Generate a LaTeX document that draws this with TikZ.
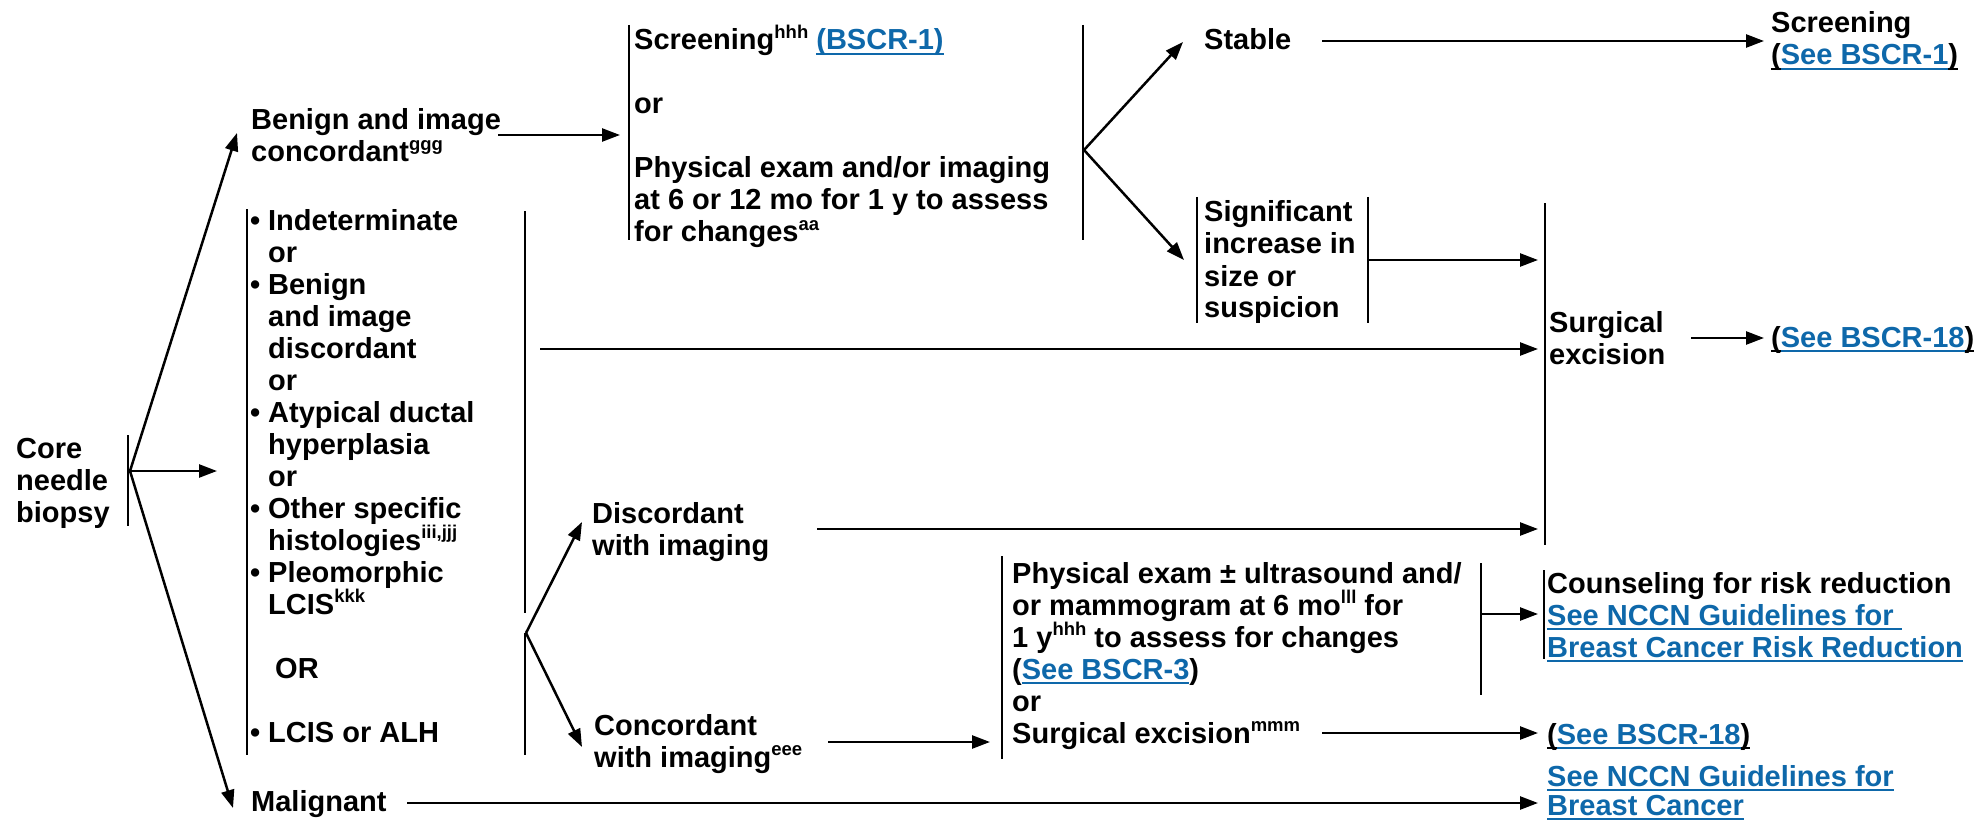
\documentclass[tikz,border=0pt]{standalone}
\usepackage{fontspec}
\setmainfont{Liberation Sans}
\usetikzlibrary{arrows.meta}
\definecolor{lnk}{RGB}{14,104,170}
\newsavebox{\ulbox}
\newcommand{\uln}[1]{\sbox{\ulbox}{#1}\rlap{\rule[-5pt]{\wd\ulbox}{2pt}}\usebox{\ulbox}}
\newcommand{\ml}[1]{\begin{tabular}[t]{@{}l@{}}#1\end{tabular}}
\newcommand{\sps}[1]{\smash{\raisebox{11.5pt}{\fontsize{18.5}{18.5}\selectfont #1}}}
\newcommand{\lk}[1]{\textcolor{lnk}{\uln{#1}}}
\newcommand{\bul}{\makebox[18pt][l]{•}}
\newcommand{\ind}{\hspace*{18pt}}
\tikzset{
  txt/.style={inner sep=0pt, anchor=base west, font=\fontsize{29}{32}\selectfont\bfseries},
  bar/.style={line width=2.5pt},
  arr/.style={line width=2.5pt, -{Triangle[length=18pt,width=13pt]}}
}
\begin{document}
\begin{tikzpicture}[x=1pt,y=-1pt]
\useasboundingbox (0,0) rectangle (1977,821);
% text blocks
\node[txt] (core) at (16,458) {\ml{Core\\needle\\biopsy}};
\node[txt] (benign) at (251,130) {\ml{Benign and image\\concordant\sps{ggg}}};
\node[txt] (screen) at (634,50) {\ml{Screening\sps{hhh} \lk{(BSCR-1)}\\ \\or\\ \\Physical exam and/or imaging\\at 6 or 12 mo for 1 y to assess\\for changes\sps{aa}}};
\node[txt] (stable) at (1204,50) {Stable};
\node[txt] (screen2) at (1771,33) {\ml{Screening\\\uln{(}\lk{See BSCR-1}\uln{)}}};
\node[txt] (signif) at (1204,222) {\ml{Significant\\increase in\\size or\\suspicion}};
\node[txt] (box2) at (250,230) {\ml{\bul Indeterminate\\\ind or\\\bul Benign\\\ind and image\\\ind discordant\\\ind or\\\bul Atypical ductal\\\ind hyperplasia\\\ind or\\\bul Other specific\\\ind histologies\sps{iii,jjj}\\\bul Pleomorphic\\\ind LCIS\sps{kkk}\\ \\\hspace*{25pt}OR\\ \\\bul LCIS or ALH}};
\node[txt] (surg) at (1549,332) {\ml{Surgical\\excision}};
\node[txt] (bscr18a) at (1771,347) {\uln{(}\lk{See BSCR-18}\uln{)}};
\node[txt] (disc) at (592,523) {\ml{Discordant\\with imaging}};
\node[txt] (conc) at (594,735) {\ml{Concordant\\with imaging\sps{eee}}};
\node[txt] (phys) at (1012,583) {\ml{Physical exam ± ultrasound and/\\or mammogram at 6 mo\sps{lll} for\\1 y\sps{hhh} to assess for changes\\(\lk{See BSCR-3})\\or\\Surgical excision\sps{mmm}}};
\node[txt] (couns) at (1547,593) {\ml{Counseling for risk reduction\\\lk{See NCCN Guidelines for }\\\lk{Breast Cancer Risk Reduction}}};
\node[txt] (bscr18b) at (1547,744) {\uln{(}\lk{See BSCR-18}\uln{)}};
\node[txt] (nccn) at (1547,786) {\ml{\lk{See NCCN Guidelines for}\\[-3pt]\lk{Breast Cancer}}};
\node[txt] (malig) at (251,811) {Malignant};
% bars
\draw[bar] (128,435) -- (128,526);
\draw[bar] (629,25) -- (629,240);
\draw[bar] (1083,25) -- (1083,240);
\draw[bar] (1197,197) -- (1197,323);
\draw[bar] (1368,197) -- (1368,323);
\draw[bar] (247,209) -- (247,755);
\draw[bar] (525,211) -- (525,613);
\draw[bar] (525,633) -- (525,755);
\draw[bar] (1545,203) -- (1545,545);
\draw[bar] (1002,556) -- (1002,759);
\draw[bar] (1481,563) -- (1481,695);
\draw[bar] (1544,570) -- (1544,659);
% connector coordinates
\coordinate (cv) at (130,471);
\coordinate (cvup) at (237,133);
\coordinate (cvmid) at (217,471);
\coordinate (cvdn) at (233,808);
\coordinate (b1) at (498,135);
\coordinate (b2) at (620,135);
\coordinate (sv) at (1084,150);
\coordinate (svup) at (1183,42);
\coordinate (svdn) at (1184,260);
\coordinate (st1) at (1322,41);
\coordinate (st2) at (1764,41);
\coordinate (sg1) at (1368,260);
\coordinate (sg2) at (1538,260);
\coordinate (bx1) at (540,349);
\coordinate (bx2) at (1538,349);
\coordinate (su1) at (1691,338);
\coordinate (su2) at (1764,338);
\coordinate (bv) at (526,633);
\coordinate (bvup) at (582,522);
\coordinate (bvdn) at (582,747);
\coordinate (d1) at (817,529);
\coordinate (d2) at (1538,529);
\coordinate (c1) at (828,742);
\coordinate (c2) at (990,742);
\coordinate (p1) at (1481,614);
\coordinate (p2) at (1538,614);
\coordinate (e1) at (1322,733);
\coordinate (e2) at (1538,733);
\coordinate (m1) at (407,803);
\coordinate (m2) at (1538,803);
% connectors
\draw[arr] (cv) -- (cvup);
\draw[arr] (cv) -- (cvmid);
\draw[arr] (cv) -- (cvdn);
\draw[arr] (b1) -- (b2);
\draw[arr] (sv) -- (svup);
\draw[arr] (sv) -- (svdn);
\draw[arr] (st1) -- (st2);
\draw[arr] (sg1) -- (sg2);
\draw[arr] (bx1) -- (bx2);
\draw[arr] (su1) -- (su2);
\draw[arr] (bv) -- (bvup);
\draw[arr] (bv) -- (bvdn);
\draw[arr] (d1) -- (d2);
\draw[arr] (c1) -- (c2);
\draw[arr] (p1) -- (p2);
\draw[arr] (e1) -- (e2);
\draw[arr] (m1) -- (m2);
\end{tikzpicture}
\end{document}
